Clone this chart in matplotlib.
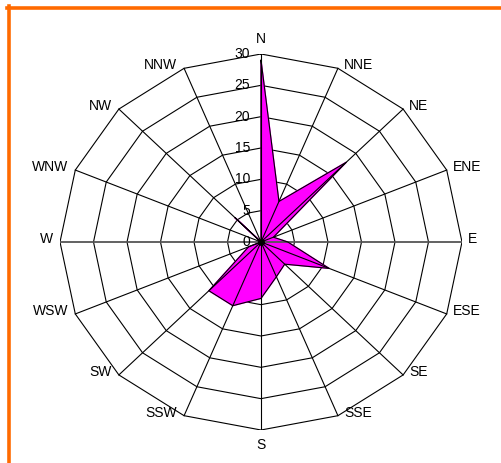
import numpy as np
import matplotlib.pyplot as plt
from matplotlib.lines import Line2D

# wind directions, clockwise from north
directions = ['N', 'NNE', 'NE', 'ENE', 'E', 'ESE', 'SE', 'SSE',
              'S', 'SSW', 'SW', 'WSW', 'W', 'WNW', 'NW', 'NNW']
frequency = [29, 7, 18, 2, 4, 11, 5, 6, 9, 11, 11, 2, 0, 0, 5.5, 0]
rings = [0, 5, 10, 15, 20, 25, 30]

W, H = 501, 463
fig = plt.figure(figsize=(W / 100, H / 100), dpi=100)
plt.rcParams['font.family'] = ['Liberation Sans', 'DejaVu Sans']

# plot area in pixels: centre (261, 242 from top), radius 201 wide x 188 high
cx, cy, rx, ry = 261, 242, 201, 188
ax = fig.add_axes([(cx - rx) / W, (H - cy - ry) / H, 2 * rx / W, 2 * ry / H])
ax.set_xlim(-30, 30)
ax.set_ylim(-30, 30)
ax.axis('off')

theta = np.deg2rad(np.arange(len(directions)) * 22.5)
sx, sy = np.sin(theta), np.cos(theta)

# ring polygons
for r in rings[1:]:
    ax.plot(np.append(r * sx, r * sx[0]), np.append(r * sy, r * sy[0]),
            color='black', lw=0.8, zorder=1)

# data polygon
vals = np.array(frequency)
ax.fill(vals * sx, vals * sy, color='#FF00FF', zorder=2)
ax.plot(np.append(vals * sx, vals[0] * sx[0]), np.append(vals * sy, vals[0] * sy[0]),
        color='black', lw=0.8, zorder=4)

# spokes on top of the fill
for i, d in enumerate(directions):
    col = '#555555' if d in ('E', 'W') else 'black'
    lw = 1.3 if d in ('E', 'W') else 0.8
    ax.plot([0, 30 * sx[i]], [0, 30 * sy[i]], color=col, lw=lw, zorder=3)
ax.plot(0, 0, 'o', color='black', ms=4, zorder=5)

# direction labels
for i, d in enumerate(directions):
    x, y = 30 * sx[i], 30 * sy[i]
    if d == 'N':
        off, ha, va = (0, 8), 'center', 'bottom'
    elif d == 'S':
        off, ha, va = (0, -8), 'center', 'top'
    elif sx[i] > 0:
        off, ha, va = (6, 3), 'left', 'center'
    else:
        off, ha, va = (-7, 3), 'right', 'center'
    ax.annotate(d, (x, y), xytext=off, textcoords='offset pixels',
                ha=ha, va=va, fontsize=10, annotation_clip=False)

# value labels along the north spoke
for r in rings:
    ax.annotate(str(r), (0, r), xytext=(-11, 0), textcoords='offset pixels',
                ha='right', va='center', fontsize=10, annotation_clip=False)

# orange frame (only top and left edges fall inside the picture)
fig.add_artist(Line2D([8.7 / W, 8.7 / W], [0, 1 - 6 / H], color='#FF6A00', lw=2.6,
                      transform=fig.transFigure))
fig.add_artist(Line2D([7 / W, 1], [1 - 8 / H, 1 - 8 / H], color='#FF6A00', lw=2.6,
                      transform=fig.transFigure))

fig.savefig('out.png', dpi=100)
